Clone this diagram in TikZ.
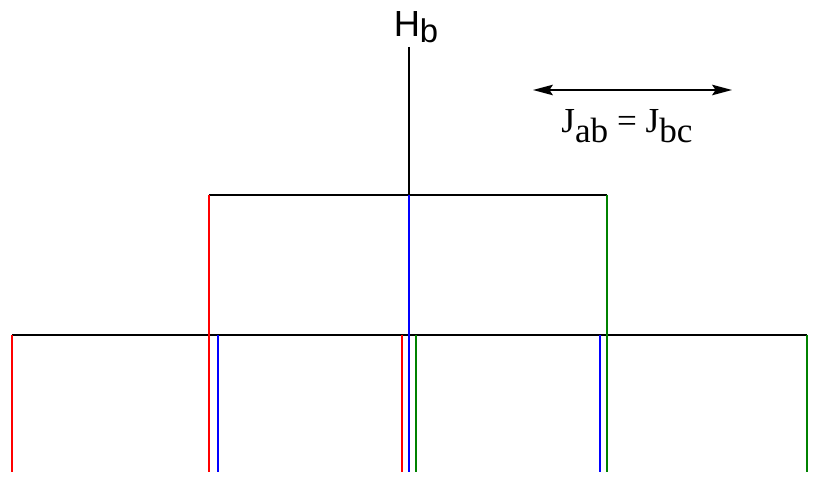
\documentclass[tikz,border=0pt]{standalone}
\usepackage{fontspec}
\usepackage{tikz}
\usetikzlibrary{arrows.meta}
\setmainfont{Liberation Serif}
\setsansfont{Liberation Sans}
\definecolor{splitred}{RGB}{255,0,0}
\definecolor{splitblue}{RGB}{0,0,255}
\definecolor{splitgreen}{RGB}{0,130,0}
\newcommand{\lowsub}[2]{\raisebox{-#1}{#2}}
\tikzset{
  wire/.style={black,line width=1.5pt},
  redline/.style={splitred,line width=1.5pt},
  blueline/.style={splitblue,line width=1.5pt},
  greenline/.style={splitgreen,line width=1.5pt},
  coupling/.style={{Stealth[length=17pt,width=9pt,inset=3pt]}-{Stealth[length=17pt,width=9pt,inset=3pt]},black,line width=1.3pt},
  lab/.style={inner sep=0pt,anchor=base},
}

\begin{document}
\begin{tikzpicture}[x=0.03cm,y=-0.03cm]
  \useasboundingbox (0,0) rectangle (820,488);

  % proton label and its line
  \node[lab,font=\sffamily\fontsize{31}{31}\selectfont] (hb) at (416,37)
    {H\lowsub{5pt}{\fontsize{28}{28}\selectfont b}};
  \coordinate (top) at (409,47);
  \coordinate (mid) at (409,195);
  \draw[wire] (top) -- (mid);

  % coupling constant scale
  \coordinate (jl) at (533,90);
  \coordinate (jr) at (732,90);
  \draw[coupling] (jl) -- (jr);
  \node[lab,font=\rmfamily\fontsize{30}{30}\selectfont] (jlab) at (627,133)
    {J\lowsub{8pt}{ab} = J\lowsub{8pt}{bc}};

  % first splitting
  \coordinate (l1) at (209,195);
  \coordinate (r1) at (607,195);
  \draw[wire] (l1) -- (r1);

  % second splitting
  \coordinate (l2) at (12,335);
  \coordinate (r2) at (807,335);
  \draw[wire] (l2) -- (r2);

  % lines through both levels
  \foreach \name/\x/\kind in {ra/209/redline,bb/409/blueline,gc/607/greenline}{
    \coordinate (\name-top) at (\x,195);
    \coordinate (\name-end) at (\x,472);
    \draw[\kind] (\name-top) -- (\name-end);
  }

  % lines of the second level
  \foreach \name/\x/\kind in {r0/12/redline,b1/218/blueline,r2/402/redline,g2/416/greenline,b3/600/blueline,g4/807/greenline}{
    \coordinate (\name-top) at (\x,335);
    \coordinate (\name-end) at (\x,472);
    \draw[\kind] (\name-top) -- (\name-end);
  }
\end{tikzpicture}
\end{document}
